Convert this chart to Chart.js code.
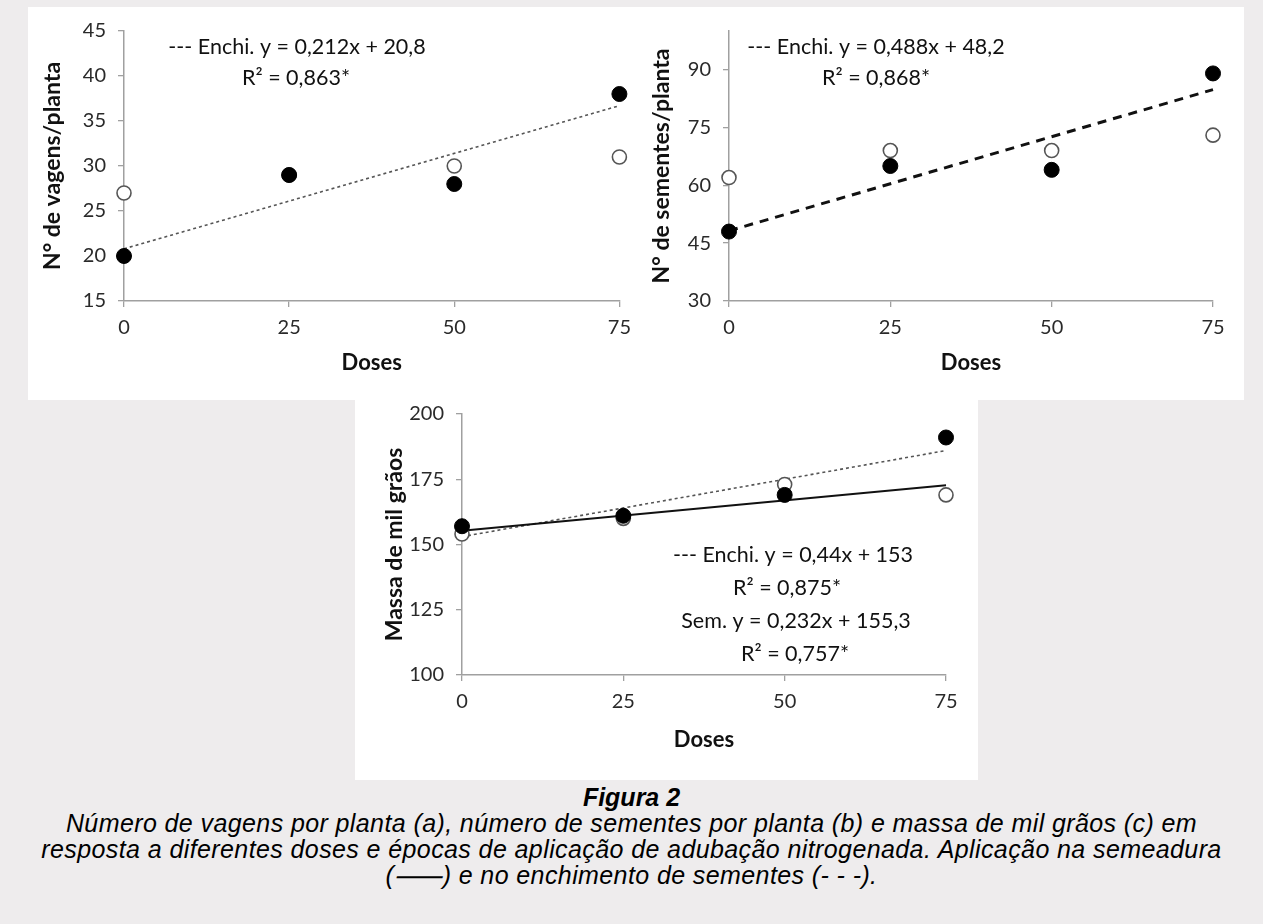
<!DOCTYPE html>
<html>
<head>
<meta charset="utf-8">
<script src="https://cdn.jsdelivr.net/npm/chart.js@4.4.1/dist/chart.umd.min.js"></script>
<style>
  html,body{margin:0;padding:0;}
  body{width:1263px;height:924px;background:#eeeced;position:relative;overflow:hidden;}
  .panel{position:absolute;background:#ffffff;}
  canvas{position:absolute;}
  #caption{position:absolute;left:0;top:784px;width:1263px;text-align:center;
    font-family:"Liberation Sans",Arial,sans-serif;font-style:italic;color:#000;
    font-size:25px;line-height:26px;letter-spacing:0.4px;}
  #caption b{font-weight:bold;letter-spacing:0;}
</style>
</head>
<body>
<div class="panel" style="left:28px;top:7px;width:1216px;height:393px;"></div>
<div class="panel" style="left:355px;top:400px;width:623px;height:380px;"></div>
<canvas id="cA" style="left:28px;top:7px;"></canvas>
<canvas id="cB" style="left:640px;top:7px;"></canvas>
<canvas id="cC" style="left:355px;top:390px;"></canvas>
<div id="caption"><b>Figura 2</b><br>Número de vagens por planta (a), número de sementes por planta (b) e massa de mil grãos (c) em<br>resposta a diferentes doses e épocas de aplicação de adubação nitrogenada. Aplicação na semeadura<br>(⸺) e no enchimento de sementes (- - -).</div>
<script>
// ---------- data ----------
const doses = [0, 25, 50, 75];
const trendX = [0, 75];

// (a) N° de vagens/planta
const vagensEnchi = [20, 29, 28, 38];
const vagensSem   = [27, 29, 30, 31];
const vagensTrendEnchi = [20.8, 36.7];
const vagensTicks = [15, 20, 25, 30, 35, 40, 45];

// (b) N° de sementes/planta
const sementesEnchi = [48, 65, 64, 89];
const sementesSem   = [62, 69, 69, 73];
const sementesTrendEnchi = [48.2, 84.8];
const sementesTicks = [30, 45, 60, 75, 90];

// (c) Massa de mil grãos
const massaEnchi = [157, 161, 169, 191];
const massaSem   = [154, 160, 173, 169];
const massaTrendEnchi = [153, 186];
const massaTrendSem   = [155.3, 172.7];
const massaTicks = [100, 125, 150, 175, 200];

const doseTicks = [0, 25, 50, 75];

const annotA = ["--- Enchi. y = 0,212x + 20,8", "R² = 0,863*"];
const annotB = ["--- Enchi. y = 0,488x + 48,2", "R² = 0,868*"];
const annotC = ["--- Enchi. y = 0,44x + 153", "R² = 0,875*", "Sem. y = 0,232x + 155,3", "R² = 0,757*"];

// ---------- helpers ----------
const FONT = "Lato, 'Open Sans', sans-serif";
const toXY = (xs, ys) => xs.map((x, i) => ({x: x, y: ys[i]}));

function filledSet(ys){
  return {type:'scatter', data: toXY(doses, ys), pointRadius:7.5, pointHoverRadius:7.5,
    pointBackgroundColor:'#000', pointBorderColor:'#000', pointBorderWidth:1, showLine:false, order:0, clip:false};
}
function openSet(ys){
  return {type:'scatter', data: toXY(doses, ys), pointRadius:7, pointHoverRadius:7,
    pointBackgroundColor:'#fff', pointBorderColor:'#555', pointBorderWidth:1.6, showLine:false, order:1, clip:false};
}
function lineSet(ys, color, width, dash, ord){
  return {type:'line', data: toXY(trendX, ys), borderColor:color, borderWidth:width, borderDash:dash,
    pointRadius:0, fill:false, tension:0, order:ord, clip:false};
}

function annotPlugin(lines, cx, y0, dy, size){
  return {id:'annot', afterDraw(chart){
    const ctx = chart.ctx; ctx.save();
    ctx.font = size + "px " + FONT; ctx.fillStyle = '#111';
    ctx.textAlign = 'center'; ctx.textBaseline = 'middle';
    lines.forEach((t, i) => {
      const c = Array.isArray(cx) ? cx[i] : cx;
      ctx.fillText(t, c, y0 + i * dy);
    });
    ctx.restore();
  }};
}

function makeChart(id, w, h, cfg){
  const cv = document.getElementById(id);
  cv.width = w; cv.height = h; cv.style.width = w + 'px'; cv.style.height = h + 'px';
  return new Chart(cv, {
    type: 'scatter',
    data: {datasets: cfg.datasets},
    options: {
      responsive:false, animation:false, devicePixelRatio:1,
      layout:{padding:{left:0, top:cfg.padTop, right:cfg.padRight, bottom:0}},
      plugins:{legend:{display:false}, tooltip:{enabled:false}},
      scales:{
        x:{type:'linear', min:0, max:75,
          afterBuildTicks: s => { s.ticks = doseTicks.map(v => ({value:v})); },
          afterFit: s => { s.height = cfg.xH; },
          ticks:{font:{family:FONT, size:20}, color:'#2a2a2a', padding:9, maxRotation:0},
          grid:{drawOnChartArea:false, drawTicks:true, tickLength:6, color:'#a0a0a0', lineWidth:1.3},
          border:{display:true, color:'#a0a0a0', width:1.5},
          title:{display:true, text:'Doses', font:{family:FONT, size:22, weight:'bold'}, color:'#111',
            padding:{top:cfg.xTitlePad, bottom:cfg.xTitlePad}}
        },
        y:{type:'linear', min:cfg.ymin, max:cfg.ymax,
          afterBuildTicks: s => { s.ticks = cfg.yTicks.map(v => ({value:v})); },
          afterFit: s => { s.width = cfg.yW; },
          ticks:{font:{family:FONT, size:20}, color:'#2a2a2a', padding:12},
          grid:{drawOnChartArea:false, drawTicks:true, tickLength:6, color:'#a0a0a0', lineWidth:1.3},
          border:{display:true, color:'#a0a0a0', width:1.5},
          title:{display:true, text:cfg.yTitle, font:{family:FONT, size:23, weight:'bold'}, color:'#111',
            padding:{top:cfg.yTitlePad, bottom:cfg.yTitlePad}}
        }
      }
    },
    plugins:[annotPlugin(cfg.annot, cfg.annotX, cfg.annotY, cfg.annotDy, 21.5)]
  });
}

// (a)
makeChart('cA', 612, 393, {
  datasets:[filledSet(vagensEnchi), openSet(vagensSem), lineSet(vagensTrendEnchi, '#555', 1.6, [3,3], 2)],
  ymin:15, ymax:45, yTicks:vagensTicks, yTitle:'N° de vagens/planta',
  padTop:21, padRight:20, xH:99, yW:96, xTitlePad:24, yTitlePad:11,
  annot:annotA, annotX:[269, 268], annotY:40, annotDy:31
});
// (b)
makeChart('cB', 604, 393, {
  datasets:[filledSet(sementesEnchi), openSet(sementesSem), lineSet(sementesTrendEnchi, '#111', 3, [9,7], 2)],
  ymin:30, ymax:100, yTicks:sementesTicks, yTitle:'N° de sementes/planta',
  padTop:22, padRight:31, xH:99, yW:89, xTitlePad:24, yTitlePad:8,
  annot:annotB, annotX:[236, 236], annotY:40, annotDy:31
});
// (c)
makeChart('cC', 623, 390, {
  datasets:[filledSet(massaEnchi), openSet(massaSem),
            lineSet(massaTrendEnchi, '#555', 1.6, [3,3], 3), lineSet(massaTrendSem, '#111', 2, [], 2)],
  ymin:100, ymax:200, yTicks:massaTicks, yTitle:'Massa de mil grãos',
  padTop:15, padRight:32, xH:105, yW:107, xTitlePad:27, yTitlePad:26,
  annot:annotC, annotX:[438, 432, 441, 440], annotY:165, annotDy:33
});
</script>
</body>
</html>
